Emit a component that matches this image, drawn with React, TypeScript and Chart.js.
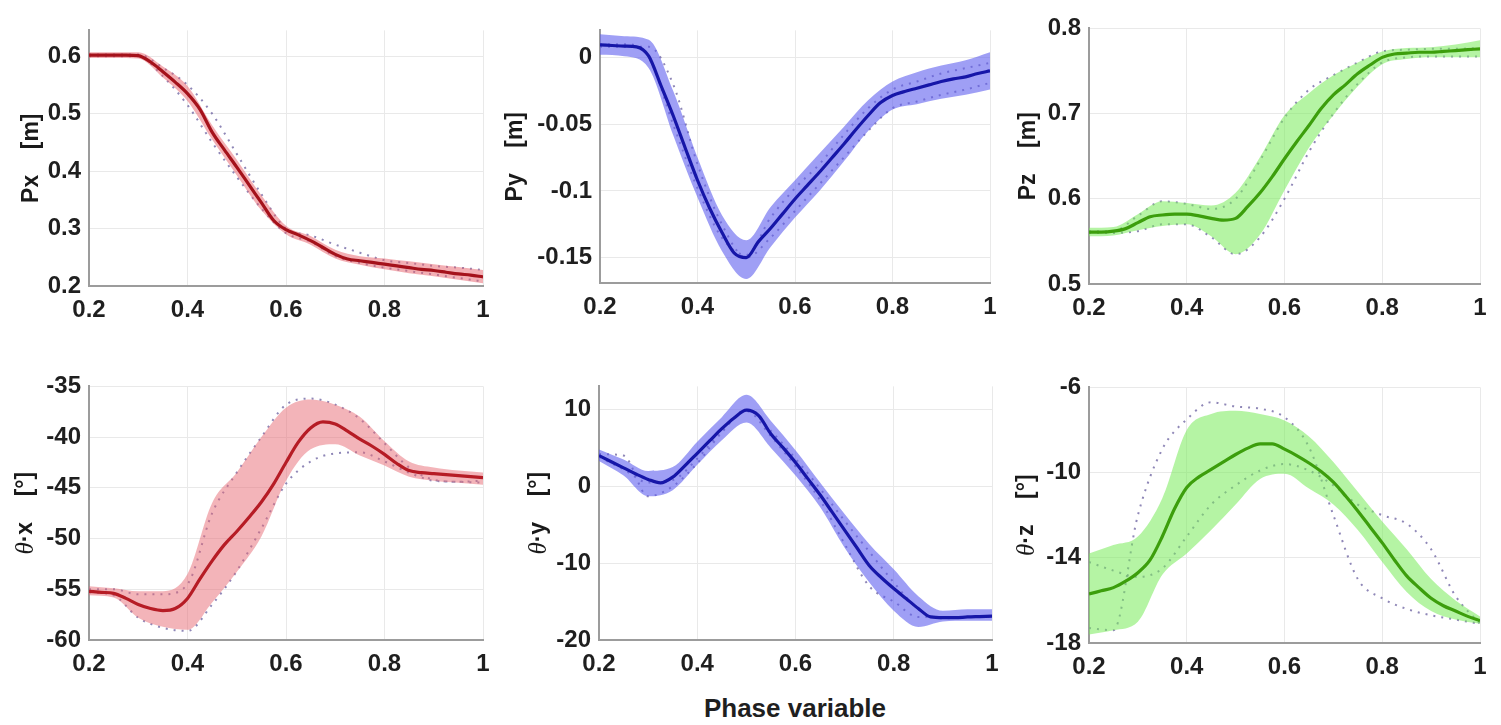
import React, { useEffect, useRef } from "react";
import { Chart, registerables } from "chart.js";

Chart.register(...registerables);

// ---------- data ----------
const phaseFine = [0.2, 0.225, 0.25, 0.275, 0.3, 0.325, 0.35, 0.375, 0.4, 0.425, 0.45, 0.475, 0.5, 0.525, 0.55, 0.575, 0.6, 0.625, 0.65, 0.675, 0.7, 0.725, 0.75, 0.775, 0.8, 0.825, 0.85, 0.875, 0.9, 0.925, 0.95, 0.975, 1.0];
const phaseCoarse = [0.2, 0.25, 0.3, 0.35, 0.4, 0.45, 0.5, 0.55, 0.6, 0.65, 0.7, 0.75, 0.8, 0.85, 0.9, 0.95, 1.0];

const xTicks = [0.2, 0.4, 0.6, 0.8, 1];
const xTickLabels = ["0.2", "0.4", "0.6", "0.8", "1"];

// Px [m]
const pxMean = [0.602, 0.602, 0.602, 0.602, 0.601, 0.590, 0.573, 0.555, 0.535, 0.508, 0.468, 0.437, 0.407, 0.376, 0.345, 0.314, 0.298, 0.289, 0.279, 0.267, 0.255, 0.247, 0.244, 0.241, 0.238, 0.235, 0.232, 0.229, 0.227, 0.224, 0.221, 0.219, 0.216];
const pxUpper = [0.607, 0.607, 0.607, 0.582, 0.548, 0.480, 0.420, 0.358, 0.305, 0.287, 0.263, 0.252, 0.248, 0.243, 0.238, 0.233, 0.228];
const pxLower = [0.597, 0.597, 0.596, 0.563, 0.522, 0.455, 0.393, 0.332, 0.290, 0.272, 0.248, 0.237, 0.229, 0.222, 0.217, 0.211, 0.205];
const pxDotA = [0.603, 0.603, 0.603, 0.580, 0.550, 0.500, 0.430, 0.360, 0.300, 0.288, 0.272, 0.258, 0.245, 0.240, 0.235, 0.232, 0.228];
const pxDotB = [0.600, 0.600, 0.600, 0.565, 0.515, 0.450, 0.390, 0.335, 0.292, 0.277, 0.252, 0.240, 0.232, 0.226, 0.220, 0.214, 0.208];
const pxTicks = [0.2, 0.3, 0.4, 0.5, 0.6];
const pxTickLabels = ["0.2", "0.3", "0.4", "0.5", "0.6"];

// Py [m]
const pyMean = [0.0095, 0.009, 0.0085, 0.008, 0.001, -0.021, -0.0435, -0.068, -0.092, -0.113, -0.131, -0.1464, -0.150, -0.138, -0.128, -0.117, -0.106, -0.096, -0.086, -0.0755, -0.065, -0.054, -0.0435, -0.034, -0.0285, -0.0255, -0.023, -0.0205, -0.018, -0.016, -0.0145, -0.012, -0.010];
const pyUpper = [0.0175, 0.016, 0.0133, -0.025, -0.075, -0.118, -0.137, -0.112, -0.092, -0.072, -0.052, -0.032, -0.018, -0.011, -0.006, -0.002, 0.004];
const pyLower = [0.002, 0.001, -0.008, -0.058, -0.105, -0.145, -0.166, -0.142, -0.120, -0.100, -0.078, -0.055, -0.039, -0.035, -0.031, -0.028, -0.024];
const pyDotA = [0.008, 0.008, 0.008, -0.020, -0.080, -0.125, -0.150, -0.135, -0.115, -0.095, -0.075, -0.055, -0.038, -0.033, -0.028, -0.024, -0.019];
const pyDotB = [0.010, 0.010, 0.000, -0.050, -0.098, -0.135, -0.148, -0.120, -0.098, -0.080, -0.058, -0.038, -0.024, -0.018, -0.012, -0.008, -0.004];
const pyTicks = [-0.15, -0.1, -0.05, 0];
const pyTickLabels = ["-0.15", "-0.1", "-0.05", "0"];

// Pz [m]
const pzMean = [0.561, 0.561, 0.562, 0.565, 0.572, 0.579, 0.581, 0.582, 0.582, 0.580, 0.577, 0.575, 0.577, 0.591, 0.607, 0.626, 0.647, 0.667, 0.686, 0.706, 0.722, 0.734, 0.747, 0.757, 0.766, 0.770, 0.771, 0.772, 0.772, 0.773, 0.774, 0.775, 0.776];
const pzUpper = [0.566, 0.567, 0.582, 0.597, 0.595, 0.592, 0.607, 0.649, 0.698, 0.724, 0.745, 0.760, 0.773, 0.777, 0.778, 0.781, 0.786];
const pzLower = [0.556, 0.557, 0.563, 0.568, 0.570, 0.556, 0.535, 0.558, 0.610, 0.660, 0.698, 0.732, 0.758, 0.764, 0.766, 0.766, 0.766];
const pzDotA = [0.562, 0.562, 0.580, 0.597, 0.594, 0.588, 0.600, 0.645, 0.695, 0.728, 0.745, 0.760, 0.773, 0.775, 0.776, 0.776, 0.777];
const pzDotB = [0.560, 0.560, 0.562, 0.570, 0.570, 0.555, 0.535, 0.555, 0.600, 0.655, 0.700, 0.735, 0.760, 0.766, 0.767, 0.767, 0.767];
const pzTicks = [0.5, 0.6, 0.7, 0.8];
const pzTickLabels = ["0.5", "0.6", "0.7", "0.8"];

// θ·x [°]
const txMean = [-55.2, -55.3, -55.4, -55.9, -56.5, -56.9, -57.1, -56.9, -55.9, -54.0, -52.2, -50.6, -49.3, -47.9, -46.4, -44.6, -42.5, -40.5, -39.1, -38.5, -38.7, -39.4, -40.2, -40.9, -41.7, -42.6, -43.3, -43.5, -43.6, -43.7, -43.8, -43.9, -44.0];
const txUpper = [-54.7, -54.9, -55.2, -55.2, -53.5, -46.5, -43.5, -40.0, -37.1, -36.3, -36.8, -38.0, -40.4, -42.4, -43.0, -43.3, -43.5];
const txLower = [-55.6, -55.8, -57.8, -58.7, -59.0, -56.3, -53.3, -49.8, -44.3, -41.2, -40.7, -41.8, -42.8, -43.9, -44.3, -44.5, -44.7];
const txDotA = [-55.0, -55.0, -55.5, -55.5, -54.5, -47.5, -43.5, -40.0, -36.8, -36.2, -36.8, -38.2, -40.6, -43.0, -44.2, -44.4, -44.3];
const txDotB = [-55.3, -55.6, -57.8, -58.8, -59.1, -56.5, -53.2, -49.0, -44.6, -42.4, -41.6, -41.5, -42.4, -43.5, -44.3, -44.4, -44.5];
const txTicks = [-60, -55, -50, -45, -40, -35];
const txTickLabels = ["-60", "-55", "-50", "-45", "-40", "-35"];

// θ·y [°]
const tyMean = [4.0, 3.2, 2.4, 1.6, 0.9, 0.45, 1.2, 2.7, 4.3, 5.9, 7.5, 8.9, 9.9, 9.2, 6.8, 5.0, 3.1, 1.0, -1.1, -3.4, -5.7, -8.0, -10.3, -11.9, -13.3, -14.6, -15.9, -17.0, -17.1, -17.1, -17.0, -16.95, -16.9];
const tyUpper = [4.8, 3.5, 2.0, 2.5, 5.8, 9.0, 11.9, 8.5, 4.7, 0.5, -3.6, -7.5, -10.8, -14.3, -16.2, -16.0, -16.0];
const tyLower = [3.3, 1.4, -1.3, -0.5, 2.8, 6.0, 8.3, 5.0, 1.4, -2.7, -8.0, -12.5, -16.2, -18.3, -17.6, -17.5, -17.5];
const tyDotA = [4.2, 4.0, -1.3, 0.0, 3.0, 7.0, 10.0, 7.2, 3.6, -0.3, -4.5, -8.5, -12.5, -16.0, -17.2, -17.0, -17.0];
const tyDotB = [3.8, 2.2, 0.5, 0.8, 3.6, 7.2, 9.8, 6.5, 2.6, -1.8, -7.5, -13.0, -15.0, -17.0, -17.0, -17.0, -16.9];
const tyTicks = [-20, -10, 0, 10];
const tyTickLabels = ["-20", "-10", "0", "10"];

// θ·z [°]
const tzMean = [-15.7, -15.55, -15.4, -15.1, -14.7, -14.1, -13.0, -11.7, -10.7, -10.2, -9.85, -9.5, -9.15, -8.85, -8.65, -8.65, -8.9, -9.2, -9.55, -9.95, -10.45, -11.1, -11.8, -12.55, -13.3, -14.1, -14.85, -15.4, -15.9, -16.25, -16.5, -16.75, -16.95];
const tzUpper = [-13.8, -13.4, -13.0, -11.2, -8.0, -7.25, -7.1, -7.25, -7.55, -8.3, -9.5, -10.9, -12.3, -13.6, -15.0, -16.0, -16.75];
const tzLower = [-17.6, -17.4, -17.0, -14.8, -13.8, -12.7, -11.5, -10.3, -10.05, -10.75, -11.5, -12.7, -14.2, -15.6, -16.5, -16.9, -17.1];
const tzDotA = [-17.3, -17.4, -12.0, -8.9, -7.5, -6.7, -6.9, -7.0, -7.4, -8.8, -12.0, -15.0, -15.9, -16.4, -16.7, -16.9, -17.1];
const tzDotB = [-14.2, -14.6, -14.9, -14.5, -13.0, -11.5, -10.6, -9.9, -9.6, -9.9, -10.6, -11.5, -12.0, -12.4, -13.6, -15.8, -17.1];
const tzTicks = [-18, -14, -10, -6];
const tzTickLabels = ["-18", "-14", "-10", "-6"];

// ---------- styling ----------
const SANS = 'Arial, "Liberation Sans", Helvetica, sans-serif';
const Y_AXIS_W = 110;
const X_AXIS_H = 45;
const PAD_TOP = 14;
const PAD_RIGHT = 18;

const RED = { line: "#a5121b", band: "rgba(232,95,105,0.5)" };
const RED2 = { line: "#b61c25", band: "rgba(232,105,115,0.5)" };
const BLUE = { line: "#1616a8", band: "rgba(95,95,238,0.6)" };
const GREEN = { line: "#3c9e0c", band: "rgba(120,235,90,0.55)" };
const DOT_COLOR = "rgba(115,105,165,0.8)";

type Part = { text: string; font: string };

const titleBold = (t: string): Part => ({ text: t, font: `bold 23px ${SANS}` });
const titleTheta: Part = { text: "θ", font: 'italic 25px "Liberation Serif", "DejaVu Serif", serif' };

const panels = [
  { key: "px", mean: pxMean, upper: pxUpper, lower: pxLower, dotA: pxDotA, dotB: pxDotB, yMin: 0.2, yMax: 0.645, yTicks: pxTicks, yLabels: pxTickLabels, color: RED, title: [titleBold("Px    [m]")], titleOffset: 58, box: { left: 89, top: 22, w: 394, h: 264 } },
  { key: "py", mean: pyMean, upper: pyUpper, lower: pyLower, dotA: pyDotA, dotB: pyDotB, yMin: -0.169, yMax: 0.0203, yTicks: pyTicks, yLabels: pyTickLabels, color: BLUE, title: [titleBold("Py    [m]")], titleOffset: 85, box: { left: 600, top: 22, w: 390, h: 261 } },
  { key: "pz", mean: pzMean, upper: pzUpper, lower: pzLower, dotA: pzDotA, dotB: pzDotB, yMin: 0.5, yMax: 0.8, yTicks: pzTicks, yLabels: pzTickLabels, color: GREEN, title: [titleBold("Pz    [m]")], titleOffset: 61, box: { left: 1089, top: 20, w: 391, h: 264 } },
  { key: "tx", mean: txMean, upper: txUpper, lower: txLower, dotA: txDotA, dotB: txDotB, yMin: -60, yMax: -35, yTicks: txTicks, yLabels: txTickLabels, color: RED2, title: [titleTheta, titleBold("·x    [°]")], titleOffset: 64, box: { left: 89, top: 378, w: 394, h: 262 } },
  { key: "ty", mean: tyMean, upper: tyUpper, lower: tyLower, dotA: tyDotA, dotB: tyDotB, yMin: -20, yMax: 13, yTicks: tyTicks, yLabels: tyTickLabels, color: BLUE, title: [titleTheta, titleBold("·y    [°]")], titleOffset: 61, box: { left: 599, top: 378, w: 393, h: 262 } },
  { key: "tz", mean: tzMean, upper: tzUpper, lower: tzLower, dotA: tzDotA, dotB: tzDotB, yMin: -18, yMax: -6, yTicks: tzTicks, yLabels: tzTickLabels, color: GREEN, title: [titleTheta, titleBold("·z    [°]")], titleOffset: 63, box: { left: 1089, top: 379, w: 391, h: 264 } },
];

const yTitlePlugin = {
  id: "yTitle",
  afterDraw(chart: any, _args: any, opts: any) {
    const parts: Part[] = opts.parts || [];
    if (!parts.length) return;
    const { ctx, chartArea } = chart;
    const cx = chartArea.left - opts.offset;
    const cy = (chartArea.top + chartArea.bottom) / 2;
    ctx.save();
    ctx.translate(cx, cy);
    ctx.rotate(-Math.PI / 2);
    ctx.fillStyle = "#1a1a1a";
    ctx.textBaseline = "middle";
    ctx.textAlign = "left";
    let total = 0;
    const widths = parts.map((p) => {
      ctx.font = p.font;
      const w = ctx.measureText(p.text).width;
      total += w;
      return w;
    });
    let x = -total / 2;
    parts.forEach((p, i) => {
      ctx.font = p.font;
      ctx.fillText(p.text, x, 1);
      x += widths[i];
    });
    ctx.restore();
  },
};

const toXY = (xs: number[], ys: number[]) => xs.map((x, i) => ({ x, y: ys[i] }));

function Panel({ cfg }: { cfg: any }) {
  const ref = useRef<HTMLCanvasElement | null>(null);
  const width = Y_AXIS_W + cfg.box.w + PAD_RIGHT;
  const height = PAD_TOP + cfg.box.h + X_AXIS_H;

  useEffect(() => {
    if (!ref.current) return;
    const tickFont = { family: SANS, size: 24, weight: "bold" as const };
    const chart = new Chart(ref.current, {
      type: "line",
      data: {
        datasets: [
          {
            data: toXY(phaseFine, cfg.mean),
            borderColor: cfg.color.line,
            borderWidth: 3.2,
            pointRadius: 0,
            fill: false,
            cubicInterpolationMode: "monotone",
            order: 0,
          },
          {
            data: toXY(phaseCoarse, cfg.upper),
            borderWidth: 0,
            borderColor: "rgba(0,0,0,0)",
            backgroundColor: cfg.color.band,
            pointRadius: 0,
            fill: false,
            cubicInterpolationMode: "monotone",
            order: 2,
          },
          {
            data: toXY(phaseCoarse, cfg.lower),
            borderWidth: 0,
            borderColor: "rgba(0,0,0,0)",
            backgroundColor: cfg.color.band,
            pointRadius: 0,
            fill: "-1",
            cubicInterpolationMode: "monotone",
            order: 2,
          },
          {
            data: toXY(phaseCoarse, cfg.dotA),
            borderColor: DOT_COLOR,
            borderWidth: 2,
            borderDash: [2, 6],
            pointRadius: 0,
            fill: false,
            cubicInterpolationMode: "monotone",
            order: 3,
          },
          {
            data: toXY(phaseCoarse, cfg.dotB),
            borderColor: DOT_COLOR,
            borderWidth: 2,
            borderDash: [2, 6],
            pointRadius: 0,
            fill: false,
            cubicInterpolationMode: "monotone",
            order: 3,
          },
        ],
      },
      options: {
        responsive: false,
        animation: false,
        events: [],
        layout: { padding: { left: 0, top: PAD_TOP, right: PAD_RIGHT, bottom: 0 } },
        plugins: {
          legend: { display: false },
          tooltip: { enabled: false },
          yTitle: { parts: cfg.title, offset: cfg.titleOffset },
        } as any,
        scales: {
          x: {
            type: "linear",
            min: 0.2,
            max: 1,
            afterBuildTicks: (s: any) => {
              s.ticks = xTicks.map((v) => ({ value: v }));
            },
            afterFit: (s: any) => {
              s.height = X_AXIS_H;
            },
            ticks: {
              autoSkip: false,
              maxRotation: 0,
              padding: 10,
              color: "#1f1f1f",
              font: tickFont,
              callback: (_v: any, i: number) => xTickLabels[i],
            },
            grid: { color: "#e9e9e9", lineWidth: 1, drawTicks: false },
            border: { color: "#9c9c9c", width: 2 },
          },
          y: {
            type: "linear",
            min: cfg.yMin,
            max: cfg.yMax,
            afterBuildTicks: (s: any) => {
              s.ticks = cfg.yTicks.map((v: number) => ({ value: v }));
            },
            afterFit: (s: any) => {
              s.width = Y_AXIS_W;
            },
            ticks: {
              autoSkip: false,
              padding: 8,
              color: "#1f1f1f",
              font: tickFont,
              callback: (_v: any, i: number) => cfg.yLabels[i],
            },
            grid: { color: "#e9e9e9", lineWidth: 1, drawTicks: false },
            border: { color: "#9c9c9c", width: 2 },
          },
        },
      },
      plugins: [yTitlePlugin],
    } as any);
    return () => chart.destroy();
  }, [cfg]);

  return (
    <div
      style={{
        position: "absolute",
        left: cfg.box.left - Y_AXIS_W,
        top: cfg.box.top - PAD_TOP,
        width,
        height,
      }}
    >
      <canvas ref={ref} width={width} height={height} style={{ display: "block" }} />
    </div>
  );
}

export default function App() {
  return (
    <div
      style={{
        position: "fixed",
        left: 0,
        top: 0,
        width: 1501,
        height: 725,
        background: "#ffffff",
        overflow: "hidden",
      }}
    >
      {panels.map((p) => (
        <Panel key={p.key} cfg={p} />
      ))}
      <div
        style={{
          position: "absolute",
          left: 645,
          top: 693,
          width: 300,
          textAlign: "center",
          fontFamily: SANS,
          fontWeight: "bold",
          fontSize: 26,
          lineHeight: "30px",
          color: "#1f1f1f",
          whiteSpace: "nowrap",
        }}
      >
        Phase variable
      </div>
    </div>
  );
}
